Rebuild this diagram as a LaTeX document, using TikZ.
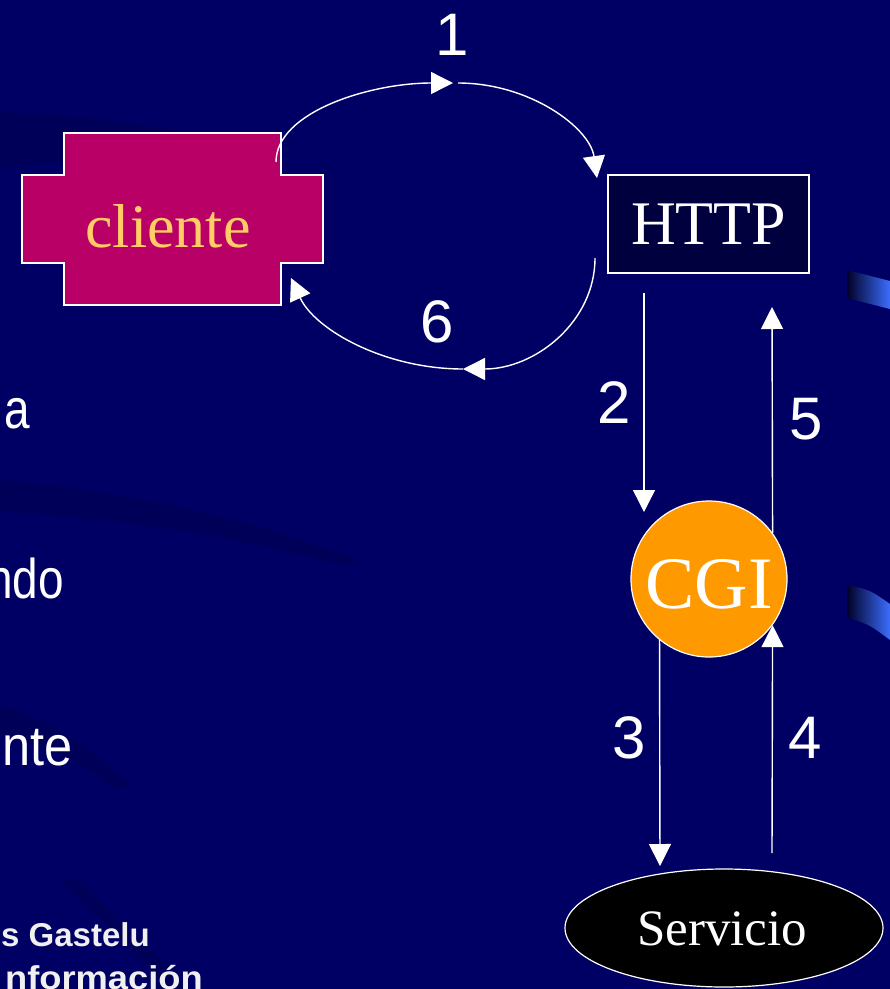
\documentclass[tikz,border=0pt]{standalone}
\usepackage{fontspec}
\setmainfont{Liberation Serif}
\newfontfamily\sansf{Liberation Sans}
\usetikzlibrary{arrows.meta,shapes.geometric}

\definecolor{bgnavy}{RGB}{0,0,100}
\definecolor{swoosh}{RGB}{0,0,80}
\definecolor{boxnavy}{RGB}{0,0,62}
\definecolor{climag}{RGB}{184,0,102}
\definecolor{clitext}{RGB}{255,204,102}
\definecolor{cgiorange}{RGB}{255,153,0}
\definecolor{streakblue}{RGB}{60,110,255}

\tikzset{
  flow/.style={draw=white, line width=1.4pt, -{Triangle[length=22pt,width=22pt]}},
  numlabel/.style={text=white, font=\sansf\fontsize{60}{60}\selectfont, inner sep=0pt},
  sidetext/.style={text=white, font=\sansf\fontsize{56}{56}\selectfont, xscale=0.82, inner sep=0pt, anchor=base east},
  authortext/.style={text=white!94!black, font=\sansf\bfseries\fontsize{33}{33}\selectfont, inner sep=0pt, anchor=base east},
  serifbig/.style={font=\fontsize{62}{62}\selectfont},
  swooshfill/.style={fill=swoosh, opacity=0.55},
}

\begin{document}
\begin{tikzpicture}[x=1pt, y=-1pt]
\useasboundingbox (0,0) rectangle (890,989);
\clip (0,0) rectangle (890,989);

% background
\fill[bgnavy] (0,0) rectangle (890,989);

% faint darker swooshes of the slide background
\fill[swooshfill] (0,112) .. controls (90,114) and (180,128) .. (260,150)
  -- (250,160) .. controls (170,145) and (90,160) .. (0,168) -- cycle;
\fill[swooshfill] (0,480) .. controls (120,490) and (240,515) .. (360,560)
  -- (345,566) .. controls (230,535) and (120,518) .. (0,512) -- cycle;
\fill[swooshfill] (0,705) .. controls (50,720) and (95,750) .. (130,785)
  -- (118,790) .. controls (85,765) and (45,742) .. (0,735) -- cycle;
\fill[swooshfill] (62,880) -- (78,880) -- (190,989) -- (170,989) -- cycle;

% blue streaks on the right edge
\shade[left color=black!60!bgnavy, right color=streakblue]
  (847,270) -- (890,281) -- (890,309) -- (847,298) -- cycle;
\shade[left color=black!60!bgnavy, right color=streakblue]
  (847,585) .. controls (870,590) .. (890,604) -- (890,640) .. controls (870,625) .. (847,617) -- cycle;

% cliente: cross-shaped block
\fill[climag, draw=white, line width=1.4pt]
  (64,133) -- (281,133) -- (281,175) -- (323,175) -- (323,263) -- (281,263)
  -- (281,305) -- (64,305) -- (64,263) -- (22,263) -- (22,175) -- (64,175) -- cycle;
\node[serifbig, text=clitext, inner sep=0pt, anchor=base] (cli) at (168,247) {cliente};

% HTTP server box
\node[draw=white, line width=1.4pt, fill=boxnavy, text=white, serifbig,
      minimum width=201pt, minimum height=98pt, inner sep=0pt] (http) at (708.5,224) {HTTP};

% CGI circle
\node[circle, draw=white, line width=1.2pt, fill=cgiorange,
      minimum size=156pt, inner sep=0pt] (cgi) at (709,579) {};
\node[text=white, font=\fontsize{74}{74}\selectfont, inner sep=0pt, anchor=base] (cgitext) at (709,608) {CGI};

% Servicio ellipse
\node[ellipse, draw=white, line width=1.2pt, fill=black,
      minimum width=318pt, minimum height=118pt, inner sep=0pt] (srv) at (724,928) {};
\node[text=white, font=\fontsize{51}{51}\selectfont, inner sep=0pt, anchor=base] (srvtext) at (722,945) {Servicio};

% free ends of the connectors
\coordinate (r1a) at (276,162);
\coordinate (r1m) at (453,83);
\coordinate (r1b) at (458,83);
\coordinate (r1e) at (597,178);
\coordinate (r6a) at (595,258);
\coordinate (r6m) at (463,369);
\coordinate (r6e) at (291,278);
\coordinate (r2a) at (644,293);
\coordinate (r2e) at (644,512);
\coordinate (r5e) at (772,307);
\coordinate (r3e) at (660,866);
\coordinate (r4a) at (772,853);

% 1: cliente -> HTTP
\draw[flow] (r1a) .. controls (276,112) and (370,83) .. (r1m);
\draw[flow] (r1b) .. controls (530,83) and (590,128) .. (r1e);
% 6: HTTP -> cliente
\draw[flow] (r6a) .. controls (595,322) and (535,369) .. (r6m);
\draw[flow] (r6m) .. controls (385,369) and (315,330) .. (r6e);
% 2: HTTP -> CGI
\draw[flow] (r2a) -- (r2e);
% 5: CGI -> HTTP
\draw[flow] (cgi.36) -- (r5e);
% 3: CGI -> Servicio
\draw[flow] (cgi.-129) -- (r3e);
% 4: Servicio -> CGI
\draw[flow] (r4a) -- (cgi.-36);

% step numbers
\node[numlabel] (n1) at (452,35) {1};
\node[numlabel] (n6) at (437,322) {6};
\node[numlabel] (n2) at (614,403) {2};
\node[numlabel] (n5) at (806,419) {5};
\node[numlabel] (n3) at (629,738) {3};
\node[numlabel] (n4) at (805,738) {4};

% text at the left edge of the slide
\node[sidetext] (t1) at (30,428) {a};
\node[sidetext] (t2) at (64,598) {ndo};
\node[sidetext, xscale=1.1] (t3) at (73,765) {nte};
\node[authortext] (t4) at (150,946) {s Gastelu};
\node[authortext, xscale=1.1] (t5) at (203,989) {nformación};
\end{tikzpicture}
\end{document}
